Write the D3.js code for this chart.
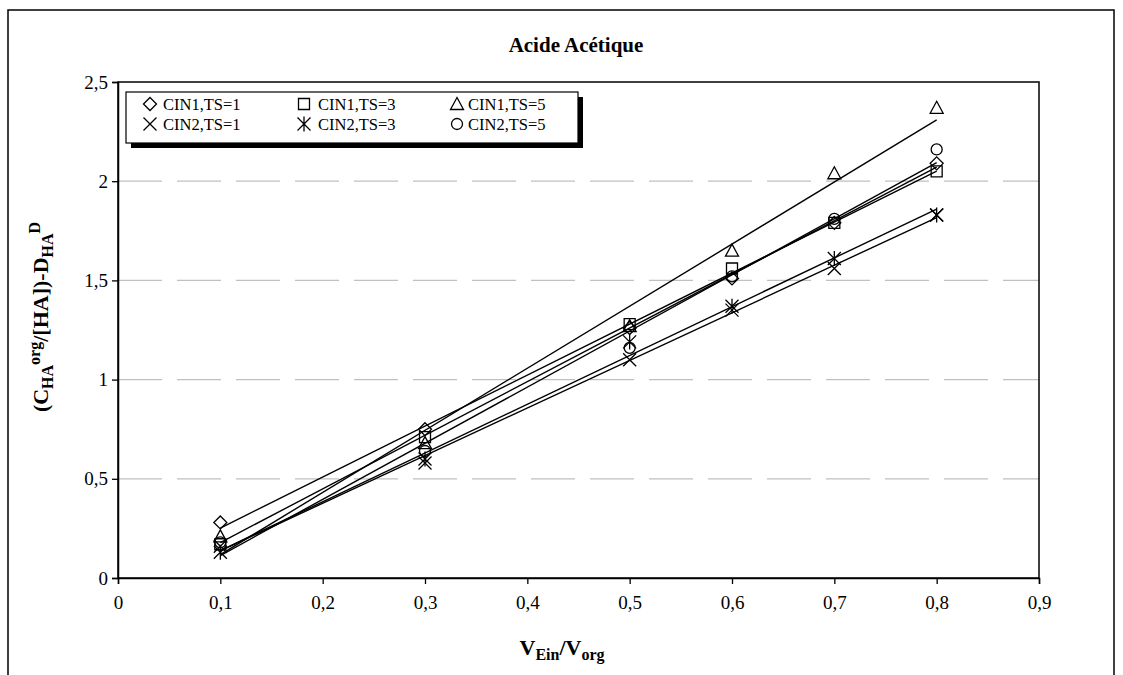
<!DOCTYPE html>
<html><head><meta charset="utf-8">
<script src="https://cdn.jsdelivr.net/npm/d3@7"></script>
<style>body{margin:0;background:#fff}svg{display:block}text{font-family:"Liberation Serif","Times New Roman",serif;fill:#000}</style>
</head><body>
<svg id="c" width="1123" height="675"></svg>
<script>
const xValues = [0.1, 0.3, 0.5, 0.6, 0.7, 0.8];
const cin1ts1 = [0.28, 0.75, 1.26, 1.51, 1.79, 2.09];
const cin1ts3 = [0.17, 0.71, 1.28, 1.56, 1.79, 2.05];
const cin1ts5 = [0.21, 0.68, 1.27, 1.65, 2.04, 2.37];
const cin2ts1 = [0.16, 0.58, 1.10, 1.35, 1.56, 1.83];
const cin2ts3 = [0.13, 0.60, 1.19, 1.37, 1.61, 1.83];
const cin2ts5 = [0.18, 0.64, 1.16, 1.52, 1.81, 2.16];
const seriesNames = ["CIN1,TS=1","CIN1,TS=3","CIN1,TS=5","CIN2,TS=1","CIN2,TS=3","CIN2,TS=5"];
const seriesMarkers = ["diamond","square","triangle","cross","asterisk","circle"];
const xTicks = [0,0.1,0.2,0.3,0.4,0.5,0.6,0.7,0.8,0.9];
const xTickLabels = ["0","0,1","0,2","0,3","0,4","0,5","0,6","0,7","0,8","0,9"];
const yTicks = [0,0.5,1,1.5,2,2.5];
const yTickLabels = ["0","0,5","1","1,5","2","2,5"];

const seriesValues = [cin1ts1,cin1ts3,cin1ts5,cin2ts1,cin2ts3,cin2ts5];
const series = seriesNames.map((n,i)=>({name:n, marker:seriesMarkers[i], pts:xValues.map((x,j)=>({x, y:seriesValues[i][j]}))}));

const svg = d3.select("#c");
const L=118, R=1039, T=82, B=578;
const x = d3.scaleLinear().domain([0,0.9]).range([L,R]);
const y = d3.scaleLinear().domain([0,2.5]).range([B,T]);

// outer frame
svg.append("rect").attr("x",8).attr("y",10).attr("width",1106).attr("height",680)
  .attr("fill","none").attr("stroke","#000").attr("stroke-width",1.5);

// title
svg.append("text").attr("x",576).attr("y",52).attr("text-anchor","middle")
  .attr("font-size",21).attr("font-weight","bold").text("Acide Acétique");

// gridlines
svg.append("g").selectAll("line").data(yTicks.filter(v=>v>0&&v<2.5)).join("line")
  .attr("x1",L).attr("x2",R).attr("y1",d=>y(d)).attr("y2",d=>y(d))
  .attr("stroke","#c0c0c0").attr("stroke-width",1.3).attr("stroke-dasharray","44,15");

// plot border
svg.append("rect").attr("x",L).attr("y",T).attr("width",R-L).attr("height",B-T)
  .attr("fill","none").attr("stroke","#000").attr("stroke-width",1.5);

// axes
const xAxis = d3.axisBottom(x).tickValues(xTicks).tickFormat((d,i)=>xTickLabels[i]).tickSize(6).tickPadding(12);
const gx = svg.append("g").attr("transform",`translate(0,${B})`).call(xAxis);
const yAxis = d3.axisLeft(y).tickValues(yTicks).tickFormat((d,i)=>yTickLabels[i]).tickSize(6).tickPadding(4);
const gy = svg.append("g").attr("transform",`translate(${L},0)`).call(yAxis);
[gx,gy].forEach(g=>{
  g.select(".domain").attr("stroke","#000").attr("stroke-width",1.5);
  g.selectAll(".tick line").attr("stroke","#000").attr("stroke-width",1.3);
  g.selectAll(".tick text").attr("font-size",19).attr("font-family","Liberation Serif, serif").attr("fill","#000");
});

// axis titles
const xt = svg.append("text").attr("x",562).attr("y",655).attr("text-anchor","middle")
  .attr("font-size",22).attr("font-weight","bold");
xt.append("tspan").text("V");
xt.append("tspan").attr("font-size",16).attr("dy",5).text("Ein");
xt.append("tspan").attr("dy",-5).text("/V");
xt.append("tspan").attr("font-size",16).attr("dy",5).text("org");

const yt = svg.append("text").attr("transform",`translate(48,317) rotate(-90)`)
  .attr("text-anchor","middle").attr("font-size",22).attr("font-weight","bold");
yt.append("tspan").text("(C");
yt.append("tspan").attr("font-size",16).attr("dy",5).text("HA");
yt.append("tspan").attr("font-size",16).attr("dy",-13).text("org");
yt.append("tspan").attr("dy",8).text("/[HA])-D");
yt.append("tspan").attr("font-size",16).attr("dy",5).text("HA");
yt.append("tspan").attr("font-size",16).attr("dy",-13).text("D");

// marker paths
function markerPath(type){
  const s=6.5;
  switch(type){
    case "diamond": return `M0,${-s}L${s},0L0,${s}L${-s},0Z`;
    case "square": return `M${-5.5},${-5.5}H5.5V5.5H-5.5Z`;
    case "triangle": return `M0,${-6.5}L6.5,5.5H-6.5Z`;
    case "circle": return d3.symbol(d3.symbolCircle, Math.PI*5.5*5.5)();
    case "cross": return `M${-s},${-s}L${s},${s}M${-s},${s}L${s},${-s}`;
    case "asterisk": return `M${-s},${-s}L${s},${s}M${-s},${s}L${s},${-s}M0,${-7.5}V7.5`;
  }
}

// trend lines (least squares from data)
const lineG = svg.append("g");
series.forEach(s=>{
  const mx=d3.mean(s.pts,p=>p.x), my=d3.mean(s.pts,p=>p.y);
  const sxy=d3.sum(s.pts,p=>(p.x-mx)*(p.y-my)), sxx=d3.sum(s.pts,p=>(p.x-mx)**2);
  const b=sxy/sxx, a=my-b*mx;
  const x0=d3.min(s.pts,p=>p.x), x1=d3.max(s.pts,p=>p.x);
  lineG.append("line").attr("x1",x(x0)).attr("y1",y(a+b*x0)).attr("x2",x(x1)).attr("y2",y(a+b*x1))
    .attr("stroke","#000").attr("stroke-width",1.4);
});

// markers
series.forEach(s=>{
  svg.append("g").selectAll("path").data(s.pts).join("path")
    .attr("transform",p=>`translate(${x(p.x)},${y(p.y)})`)
    .attr("d",markerPath(s.marker)).attr("fill","none").attr("stroke","#000").attr("stroke-width",1.3);
});

// legend
const lg = svg.append("g");
lg.append("rect").attr("x",131).attr("y",97).attr("width",452).attr("height",51).attr("fill","#000");
lg.append("rect").attr("x",126).attr("y",92).attr("width",452).attr("height",51).attr("fill","#fff").attr("stroke","#000").attr("stroke-width",1.2);
const colMarkerX=[150,304,457], colTextX=[163,318,468], rowY=[104,124];
series.forEach((s,i)=>{
  const r=Math.floor(i/3), c=i%3;
  lg.append("path").attr("transform",`translate(${colMarkerX[c]},${rowY[r]})`).attr("d",markerPath(s.marker))
    .attr("fill","none").attr("stroke","#000").attr("stroke-width",1.3);
  lg.append("text").attr("x",colTextX[c]).attr("y",rowY[r]+5.5).attr("font-size",16.5).text(s.name);
});
</script>
</body></html>
